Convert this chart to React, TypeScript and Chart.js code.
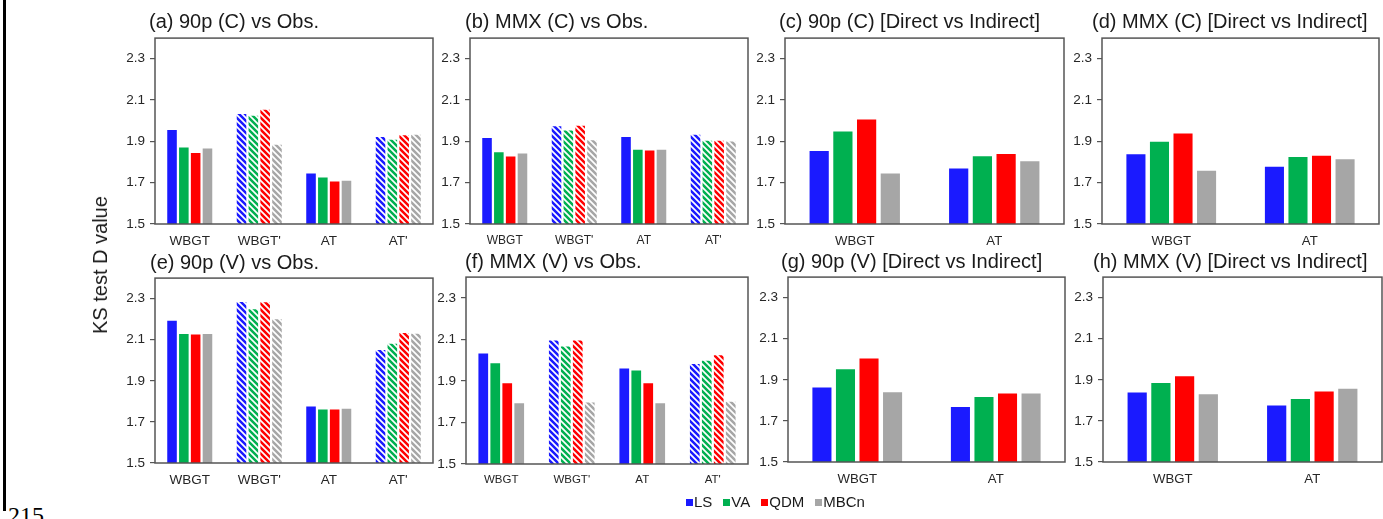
import React, { useEffect, useRef } from "react";
import { Chart, registerables } from "chart.js";

Chart.register(...registerables);

// ---------- data ----------
const SERIES = ["LS", "VA", "QDM", "MBCn"];
const COLORS = ["#1a1aff", "#00b050", "#ff0000", "#a6a6a6"];
const CATS4 = ["WBGT", "WBGT'", "AT", "AT'"];
const HATCH4 = [false, true, false, true];
const CATS2 = ["WBGT", "AT"];
const HATCH2 = [false, false];
const Y_TICKS = [1.5, 1.7, 1.9, 2.1, 2.3];
const Y_MIN = 1.5;
const Y_MAX = 2.4;

// (a) 90p (C) vs Obs.
const A_LS = [1.955, 2.032, 1.744, 1.921];
const A_VA = [1.87, 2.024, 1.725, 1.908];
const A_QDM = [1.844, 2.053, 1.706, 1.93];
const A_MBCN = [1.866, 1.884, 1.709, 1.932];
// (b) MMX (C) vs Obs.
const B_LS = [1.916, 1.973, 1.921, 1.932];
const B_VA = [1.847, 1.953, 1.859, 1.903];
const B_QDM = [1.827, 1.976, 1.856, 1.903];
const B_MBCN = [1.841, 1.905, 1.859, 1.9];
// (c) 90p (C) [Direct vs Indirect]
const C_LS = [1.854, 1.769];
const C_VA = [1.948, 1.828];
const C_QDM = [2.006, 1.839];
const C_MBCN = [1.745, 1.804];
// (d) MMX (C) [Direct vs Indirect]
const D_LS = [1.838, 1.777];
const D_VA = [1.898, 1.824];
const D_QDM = [1.938, 1.831];
const D_MBCN = [1.758, 1.814];
// (e) 90p (V) vs Obs.
const E_LS = [2.193, 2.284, 1.775, 2.05];
const E_VA = [2.128, 2.248, 1.76, 2.081];
const E_QDM = [2.126, 2.283, 1.76, 2.133];
const E_MBCN = [2.128, 2.2, 1.764, 2.129];
// (f) MMX (V) vs Obs.
const F_LS = [2.032, 2.095, 1.96, 1.982];
const F_VA = [1.985, 2.066, 1.95, 1.997];
const F_QDM = [1.889, 2.095, 1.889, 2.024];
const F_MBCN = [1.792, 1.796, 1.793, 1.8];
// (g) 90p (V) [Direct vs Indirect]
const G_LS = [1.863, 1.768];
const G_VA = [1.951, 1.816];
const G_QDM = [2.004, 1.833];
const G_MBCN = [1.839, 1.834];
// (h) MMX (V) [Direct vs Indirect]
const H_LS = [1.838, 1.775];
const H_VA = [1.885, 1.807];
const H_QDM = [1.917, 1.843];
const H_MBCN = [1.83, 1.856];

const TITLES = [
  "(a) 90p (C) vs Obs.",
  "(b) MMX (C) vs Obs.",
  "(c) 90p (C) [Direct vs Indirect]",
  "(d) MMX (C) [Direct vs Indirect]",
  "(e) 90p (V) vs Obs.",
  "(f) MMX (V) vs Obs.",
  "(g) 90p (V) [Direct vs Indirect]",
  "(h) MMX (V) [Direct vs Indirect]",
];
const Y_TITLE = "KS test D value";
const PAGE_NO = "215";

// ---------- layout (plot-area rectangles: left, top, right, bottom) ----------
const FONT = '"Liberation Sans", Arial, Helvetica, sans-serif';
const PANELS = [
  { title: TITLES[0], cats: CATS4, hatch: HATCH4, vals: [A_LS, A_VA, A_QDM, A_MBCN], rect: [155, 35, 433, 224], tx: 149, ty: 11, xfs: 13.5 },
  { title: TITLES[1], cats: CATS4, hatch: HATCH4, vals: [B_LS, B_VA, B_QDM, B_MBCN], rect: [470, 35, 748, 224], tx: 465, ty: 11, xfs: 12 },
  { title: TITLES[2], cats: CATS2, hatch: HATCH2, vals: [C_LS, C_VA, C_QDM, C_MBCN], rect: [785, 35, 1064, 224], tx: 779, ty: 11, xfs: 13.2 },
  { title: TITLES[3], cats: CATS2, hatch: HATCH2, vals: [D_LS, D_VA, D_QDM, D_MBCN], rect: [1102, 35, 1379, 224], tx: 1092, ty: 11, xfs: 13.2 },
  { title: TITLES[4], cats: CATS4, hatch: HATCH4, vals: [E_LS, E_VA, E_QDM, E_MBCN], rect: [155, 275, 433, 463], tx: 150, ty: 252, xfs: 13.5 },
  { title: TITLES[5], cats: CATS4, hatch: HATCH4, vals: [F_LS, F_VA, F_QDM, F_MBCN], rect: [466, 274, 748, 464], tx: 465, ty: 251, xfs: 11.5 },
  { title: TITLES[6], cats: CATS2, hatch: HATCH2, vals: [G_LS, G_VA, G_QDM, G_MBCN], rect: [788, 274, 1065, 462], tx: 781, ty: 251, xfs: 13.2 },
  { title: TITLES[7], cats: CATS2, hatch: HATCH2, vals: [H_LS, H_VA, H_QDM, H_MBCN], rect: [1103, 274, 1382, 462], tx: 1093, ty: 251, xfs: 13.2 },
];

const YW = 50; // y-axis box width
const PT = 10; // top padding
const PR = 6; // right padding
const XH = 30; // x-axis box height

function makeHatch(target: CanvasRenderingContext2D, color: string) {
  const s = 6;
  const c = document.createElement("canvas");
  c.width = s;
  c.height = s;
  const g = c.getContext("2d")!;
  g.fillStyle = color;
  g.fillRect(0, 0, s, s);
  g.strokeStyle = "#ffffff";
  g.lineWidth = 1.7;
  g.beginPath();
  g.moveTo(-2, -2);
  g.lineTo(s + 2, s + 2);
  g.moveTo(-2, s - 2);
  g.lineTo(2, s + 2);
  g.moveTo(s - 2, -2);
  g.lineTo(s + 2, 2);
  g.stroke();
  return target.createPattern(c, "repeat");
}

const boxPlugin = {
  id: "plotBox",
  afterDatasetsDraw(chart: any) {
    const { ctx, chartArea: a } = chart;
    ctx.save();
    ctx.strokeStyle = "#555555";
    ctx.lineWidth = 1.5;
    ctx.strokeRect(a.left, a.top, a.right - a.left, a.bottom - a.top);
    ctx.restore();
  },
};

function Panel({ p }: { p: any }) {
  const ref = useRef<HTMLCanvasElement | null>(null);
  const [L, T, R, B] = p.rect;
  const w = R - L + YW + PR;
  const h = B - T + PT + XH;

  useEffect(() => {
    const canvas = ref.current!;
    const ctx = canvas.getContext("2d")!;
    const datasets = SERIES.map((name, i) => ({
      label: name,
      data: p.vals[i],
      backgroundColor: p.cats.map((_: string, j: number) =>
        p.hatch[j] ? makeHatch(ctx, COLORS[i]) : COLORS[i]
      ),
      borderWidth: 0,
      barPercentage: 0.81,
      categoryPercentage: 0.68,
    }));
    const chart = new Chart(canvas, {
      type: "bar",
      data: { labels: p.cats, datasets },
      options: {
        animation: false,
        responsive: false,
        devicePixelRatio: 1,
        layout: { padding: { left: 0, top: PT, right: PR, bottom: 0 } },
        plugins: { legend: { display: false }, tooltip: { enabled: false }, title: { display: false } },
        scales: {
          x: {
            grid: { display: false },
            border: { display: false },
            ticks: { color: "#262626", font: { family: FONT, size: p.xfs }, padding: 1, maxRotation: 0 },
            afterFit: (s: any) => {
              s.height = XH;
            },
          },
          y: {
            min: Y_MIN,
            max: Y_MAX,
            border: { display: false },
            grid: { drawOnChartArea: false, drawTicks: true, tickLength: 5, color: "#555555", lineWidth: 1.2 },
            ticks: {
              color: "#262626",
              font: { family: FONT, size: 13.5 },
              padding: 5,
              callback: (v: any) => Number(v).toFixed(1),
            },
            afterBuildTicks: (s: any) => {
              s.ticks = Y_TICKS.map((v) => ({ value: v }));
            },
            afterFit: (s: any) => {
              s.width = YW;
            },
          },
        },
      },
      plugins: [boxPlugin],
    });
    return () => chart.destroy();
  }, []);

  return (
    <>
      <canvas
        ref={ref}
        width={w}
        height={h}
        style={{ position: "absolute", left: L - YW, top: T - PT, width: w, height: h }}
      />
      <div
        style={{
          position: "absolute",
          left: p.tx,
          top: p.ty,
          fontFamily: FONT,
          fontSize: 20,
          lineHeight: "20px",
          color: "#1a1a1a",
          whiteSpace: "nowrap",
        }}
      >
        {p.title}
      </div>
    </>
  );
}

export default function App() {
  return (
    <div
      style={{
        position: "absolute",
        left: 0,
        top: 0,
        width: 1383,
        height: 519,
        overflow: "hidden",
        background: "#ffffff",
      }}
    >
      <div style={{ position: "absolute", left: 3, top: 0, width: 3, height: 511, background: "#000" }} />
      {PANELS.map((p, i) => (
        <Panel key={i} p={p} />
      ))}
      <div
        style={{
          position: "absolute",
          left: 100,
          top: 265,
          transform: "translate(-50%, -50%) rotate(-90deg)",
          fontFamily: FONT,
          fontSize: 20,
          lineHeight: "20px",
          color: "#1a1a1a",
          whiteSpace: "nowrap",
        }}
      >
        {Y_TITLE}
      </div>
      <div
        style={{
          position: "absolute",
          left: 686,
          top: 493,
          display: "flex",
          alignItems: "center",
          gap: 11,
          fontFamily: FONT,
          fontSize: 15,
          lineHeight: "18px",
          color: "#1a1a1a",
          whiteSpace: "nowrap",
        }}
      >
        {SERIES.map((s, i) => (
          <div key={s} style={{ display: "flex", alignItems: "center" }}>
            <span style={{ display: "inline-block", width: 7, height: 7, background: COLORS[i], marginRight: 1 }} />
            <span>{s}</span>
          </div>
        ))}
      </div>
      <div
        style={{
          position: "absolute",
          left: 8,
          top: 503,
          fontFamily: '"Liberation Serif", "Times New Roman", serif',
          fontSize: 24,
          lineHeight: "24px",
          color: "#000",
        }}
      >
        {PAGE_NO}
      </div>
    </div>
  );
}
